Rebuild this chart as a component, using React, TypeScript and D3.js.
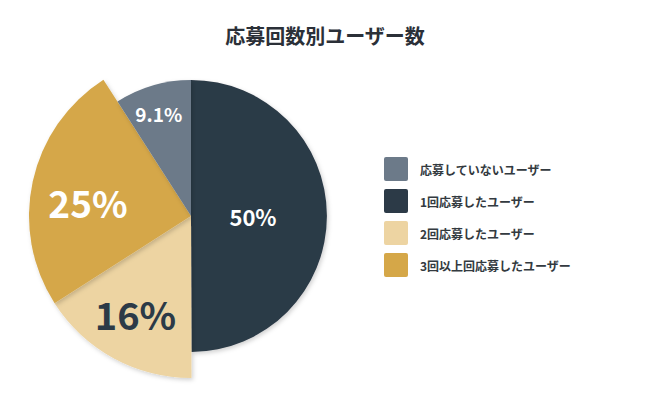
import React from 'react';
import * as d3 from 'd3';

const title = '応募回数別ユーザー数';
const categories = ['応募していないユーザー', '1回応募したユーザー', '2回応募したユーザー', '3回以上回応募したユーザー'];
const values = [9.1, 50, 16, 25];
const labels = ['9.1%', '50%', '16%', '25%'];
const colors = ['#6c7a89', '#2c3a47', '#edd4a2', '#d5a748'];

const W = 650;
const H = 413;
const FONT = '"Noto Sans CJK JP", "Noto Sans", sans-serif';

export default function App() {
  const cx = 191;
  const cy = 216;
  const baseR = 136;
  const bigR = 162;

  // slices are drawn clockwise starting at the 50% slice (12 o'clock)
  const order = [1, 2, 3, 0];
  const pie = d3
    .pie<number>()
    .sort(null)
    .value((i) => values[i]);
  const arcs = pie(order);

  const radiusOf = (i: number) => (i === 2 || i === 3 ? bigR : baseR);
  const labelR: Record<number, number> = { 0: 107, 1: 62, 2: 112, 3: 104 };
  const labelSize: Record<number, number> = { 0: 19, 1: 22, 2: 38, 3: 37 };
  const labelColor: Record<number, string> = { 0: '#fff', 1: '#fff', 2: '#2c3a47', 3: '#fff' };
  const labelAngleShift: Record<number, number> = { 0: -0.02, 1: 0, 2: 0.02, 3: -0.08 };

  const legendY = d3.scaleBand<number>().domain(d3.range(categories.length)).range([153, 281]);

  return (
    <svg width={W} height={H} style={{ position: 'absolute', left: 0, top: 0, background: '#fff' }}>
      <defs>
        <filter id="sh" x="-20%" y="-20%" width="140%" height="140%">
          <feDropShadow dx="1.5" dy="2" stdDeviation="2" floodColor="#000" floodOpacity="0.18" />
        </filter>
      </defs>
      <text
        x={325}
        y={35}
        textAnchor="middle"
        dominantBaseline="central"
        fontFamily={FONT}
        fontWeight={700}
        fontSize={20}
        fill="#2b3038"
      >
        {title}
      </text>
      <g transform={`translate(${cx},${cy})`}>
        {arcs.map((a) => {
          const i = a.data;
          const path = d3.arc<d3.PieArcDatum<number>>().innerRadius(0).outerRadius(radiusOf(i))(a) || '';
          return <path key={i} d={path} fill={colors[i]} filter="url(#sh)" />;
        })}
        {arcs.map((a) => {
          const i = a.data;
          const ang = (a.startAngle + a.endAngle) / 2 + labelAngleShift[i];
          const r = labelR[i];
          return (
            <text
              key={'l' + i}
              x={Math.sin(ang) * r}
              y={-Math.cos(ang) * r}
              textAnchor="middle"
              dominantBaseline="central"
              fontFamily={FONT}
              fontWeight={700}
              fontSize={labelSize[i]}
              fill={labelColor[i]}
            >
              {labels[i]}
            </text>
          );
        })}
      </g>
      <g>
        {categories.map((c, i) => {
          const y = legendY(i)! + (legendY.bandwidth() - 24) / 2;
          return (
            <g key={c}>
              <rect x={384} y={y} width={24} height={24} rx={2} fill={colors[i]} />
              <text
                x={420}
                y={y + 12}
                dominantBaseline="central"
                fontFamily={FONT}
                fontWeight={700}
                fontSize={12}
                fill="#333a40"
              >
                {c}
              </text>
            </g>
          );
        })}
      </g>
    </svg>
  );
}
